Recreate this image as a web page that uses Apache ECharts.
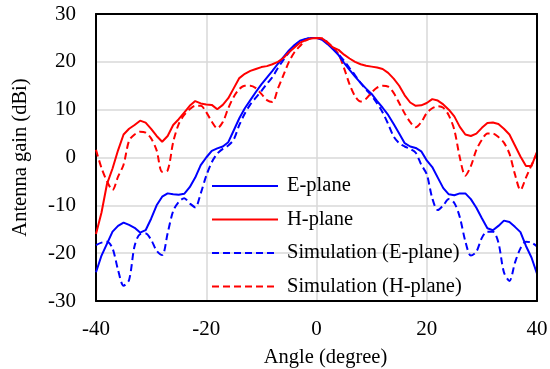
<!DOCTYPE html>
<html>
<head>
<meta charset="utf-8">
<script src="https://cdn.jsdelivr.net/npm/echarts@6/dist/echarts.min.js"></script>
<style>
html,body{margin:0;padding:0;background:#fff;}
#chart{width:550px;height:369px;}
</style>
</head>
<body>
<div id="chart"></div>
<script>
var angles = [-40,-39,-38,-37,-36,-35,-34,-33,-32,-31,-30,-29,-28,-27,-26,-25,-24,-23,-22,-21,-20,-19,-18,-17,-16,-15,-14,-13,-12,-11,-10,-9,-8,-7,-6,-5,-4,-3,-2,-1,0,1,2,3,4,5,6,7,8,9,10,11,12,13,14,15,16,17,18,19,20,21,22,23,24,25,26,27,28,29,30,31,32,33,34,35,36,37,38,39,40];

var ePlane = [-24.0,-20.5,-18.0,-15.5,-14.3,-13.6,-14.1,-14.7,-15.7,-15.2,-12.8,-10.0,-8.2,-7.5,-7.7,-7.8,-7.6,-6.2,-4.2,-1.6,0.0,1.4,1.9,2.3,3.2,5.7,8.2,10.3,12.0,13.7,15.3,16.7,18.1,19.6,21.0,22.4,23.5,24.4,24.8,25.0,25.0,
  24.6,23.7,22.6,21.4,19.8,18.3,16.9,15.6,14.4,13.3,11.8,10.4,8.9,7.0,5.0,3.0,2.3,2.0,1.3,-0.6,-2.0,-4.2,-6.4,-7.7,-7.9,-7.5,-7.5,-8.7,-10.5,-12.7,-14.8,-15.2,-14.3,-13.2,-13.5,-14.5,-15.6,-18.5,-20.9,-24.3];

var hPlane = [-16.0,-11.5,-5.5,-2.3,1.5,4.8,6.0,6.8,7.7,7.3,6.0,4.5,3.3,4.5,6.8,8.0,9.4,10.8,11.8,11.3,11.1,11.0,10.1,11.0,12.4,14.5,16.6,17.5,18.1,18.5,18.9,19.1,19.5,20.0,20.8,22.0,23.0,24.0,24.5,24.9,25.0,
  24.9,24.0,23.0,22.5,21.5,20.7,20.0,19.5,19.2,19.0,18.8,18.5,17.7,16.5,15.0,13.0,11.5,10.8,10.9,11.4,12.2,11.9,11.1,10.0,8.6,6.4,4.8,4.5,5.0,6.2,7.2,7.3,7.0,6.0,4.8,2.5,0.2,-1.8,-1.8,1.2];

var simE = [-18.3,-17.8,-17.6,-19.0,-23.5,-26.8,-25.6,-18.5,-16.0,-15.9,-17.2,-19.5,-20.4,-15.8,-11.2,-9.3,-8.5,-9.6,-10.4,-7.5,-3.8,-1.0,0.8,1.8,2.5,3.8,6.8,9.2,11.1,12.5,13.9,15.4,16.8,18.7,20.4,22.0,23.3,24.2,24.7,25.0,25.0,
  24.8,24.0,22.7,21.6,20.2,18.7,17.2,15.6,14.2,12.9,11.3,9.4,7.0,4.4,3.0,2.3,1.8,1.0,-1.5,-3.5,-8.5,-11.0,-10.0,-8.7,-9.5,-12.5,-17.5,-20.5,-19.7,-16.8,-15.5,-15.5,-17.8,-24.0,-25.8,-22.0,-19.0,-17.6,-17.8,-18.6];

var simH = [1.6,-2.2,-5.0,-6.8,-4.0,-1.5,3.5,4.8,5.4,5.2,4.0,1.5,-3.0,-2.7,3.2,7.0,8.9,10.1,10.8,10.8,9.5,7.5,6.1,7.4,10.3,12.7,14.3,15.0,15.0,14.5,13.3,12.0,11.6,14.4,17.2,20.0,22.0,23.3,24.4,24.9,25.0,
  24.9,24.1,23.0,21.6,18.7,15.3,12.8,11.7,12.3,13.6,14.6,15.0,14.8,13.5,11.4,9.2,7.4,6.3,7.4,9.3,10.3,10.7,10.4,8.8,5.8,0.0,-3.8,-1.8,1.6,3.7,5.0,5.0,4.3,3.1,0.8,-3.5,-6.8,-4.2,-1.6,0.9];

var seriesNames = ['E-plane','H-plane','Simulation (E-plane)','Simulation (H-plane)'];
var xTicks = [-40,-20,0,20,40];
var yTicks = [-30,-20,-10,0,10,20,30];

function pairs(vals){ return angles.map(function(a,i){ return [a, vals[i]]; }); }

var FONT = 'Liberation Serif';
var frameLine = {show:true,onZero:false,lineStyle:{color:'#000',width:2}};
var chart = echarts.init(document.getElementById('chart'), null, {renderer:'canvas'});
chart.setOption({
  animation:false,
  backgroundColor:'#fff',
  grid:{left:96,right:13,top:14,bottom:68,outerBoundsMode:'none',containLabel:false},
  xAxis:[{type:'value',min:xTicks[0],max:xTicks[xTicks.length-1],interval:20,
    name:'Angle (degree)',nameLocation:'middle',nameGap:46,
    nameTextStyle:{fontFamily:FONT,fontSize:20.5,color:'#000',padding:[0,0,0,18]},
    axisLine:frameLine,
    axisTick:{show:false},
    axisLabel:{fontFamily:FONT,fontSize:21,color:'#000',margin:18},
    splitLine:{show:true,lineStyle:{color:'#d9d9d9',width:1.5}},z:1},
    {type:'value',position:'top',min:xTicks[0],max:xTicks[xTicks.length-1],interval:20,
    axisLine:frameLine,axisTick:{show:false},axisLabel:{show:false},splitLine:{show:false},z:5}],
  yAxis:[{type:'value',min:yTicks[0],max:yTicks[yTicks.length-1],interval:10,
    name:'Antenna gain (dBi)',nameLocation:'middle',nameGap:65,
    nameTextStyle:{fontFamily:FONT,fontSize:20.5,color:'#000'},
    axisLine:frameLine,
    axisTick:{show:false},
    axisLabel:{fontFamily:FONT,fontSize:21,color:'#000',margin:20},
    splitLine:{show:true,lineStyle:{color:'#d9d9d9',width:1.5}},z:1},
    {type:'value',position:'right',min:yTicks[0],max:yTicks[yTicks.length-1],interval:10,
    axisLine:frameLine,axisTick:{show:false},axisLabel:{show:false},splitLine:{show:false},z:5}],
  legend:{orient:'vertical',left:211,top:175.5,itemWidth:66,itemHeight:14,itemGap:12.5,padding:0,
    data:seriesNames,
    itemStyle:{opacity:0},
    textStyle:{fontFamily:FONT,fontSize:20.5,color:'#000',lineHeight:20,padding:[0,0,0,4]}},
  series:[
    {name:seriesNames[0],type:'line',data:pairs(ePlane),symbol:'none',lineStyle:{color:'#0000ff',width:2},itemStyle:{color:'#0000ff'},z:3},
    {name:seriesNames[1],type:'line',data:pairs(hPlane),symbol:'none',lineStyle:{color:'#ff0000',width:2},itemStyle:{color:'#ff0000'},z:3},
    {name:seriesNames[2],type:'line',data:pairs(simE),symbol:'none',smooth:0.3,lineStyle:{color:'#0000ff',width:2,type:[7,4]},itemStyle:{color:'#0000ff'},z:2},
    {name:seriesNames[3],type:'line',data:pairs(simH),symbol:'none',smooth:0.3,lineStyle:{color:'#ff0000',width:2,type:[7,4]},itemStyle:{color:'#ff0000'},z:2}
  ]
});
</script>
</body>
</html>
